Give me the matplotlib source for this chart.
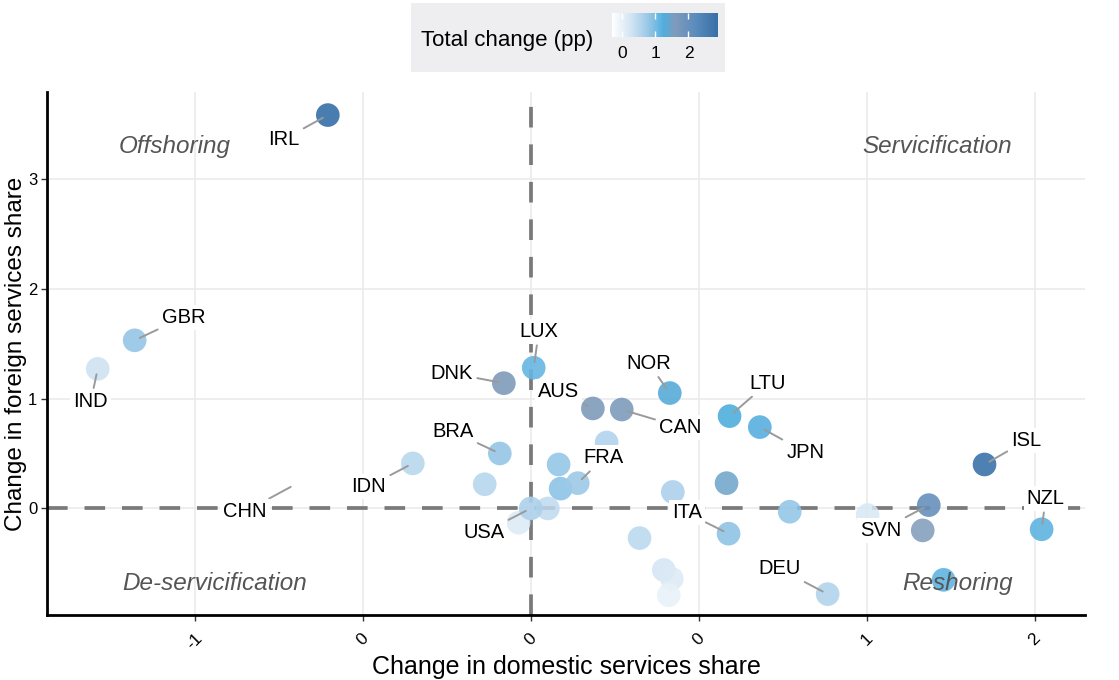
import matplotlib
matplotlib.use("Agg")
import matplotlib.pyplot as plt
import numpy as np
from matplotlib.colors import LinearSegmentedColormap, Normalize
from matplotlib.patches import Rectangle

plt.rcParams['font.family'] = ['Liberation Sans', 'DejaVu Sans']

# labelled countries
countries = ['IRL', 'GBR', 'IND', 'DNK', 'LUX', 'AUS', 'CAN', 'NOR', 'LTU', 'JPN',
             'BRA', 'IDN', 'CHN', 'USA', 'FRA', 'ITA', 'DEU', 'SVN', 'ISL', 'NZL']
dom_chg = [-0.604, -1.179, -1.289, -0.080, 0.009, 0.185, 0.271, 0.414, 0.592, 0.682,
           -0.092, -0.351, -0.70, 0.0, 0.140, 0.589, 0.884, 1.185, 1.351, 1.521]
for_chg = [3.58, 1.53, 1.27, 1.14, 1.28, 0.91, 0.90, 1.05, 0.84, 0.74,
           0.50, 0.41, 0.22, 0.0, 0.23, -0.23, -0.78, 0.03, 0.40, -0.19]
total_chg = [2.9, 0.8, 0.3, 1.62, 1.1, 1.6, 1.58, 1.3, 1.25, 1.2,
             0.8, 0.5, -0.3, 0.6, 0.75, 0.85, 0.55, 2.0, 2.8, 1.15]
# where the repelled labels sit
lab_x = [-0.735, -1.033, -1.310, -0.235, 0.024, 0.083, 0.446, 0.351, 0.705, 0.818,
         -0.232, -0.482, -0.851, -0.140, 0.217, 0.464, 0.741, 1.042, 1.476, 1.533]
lab_y = [3.36, 1.74, 0.97, 1.23, 1.61, 1.06, 0.74, 1.32, 1.14, 0.51,
         0.70, 0.20, -0.03, -0.22, 0.46, -0.04, -0.55, -0.20, 0.62, 0.09]

# unlabelled countries
other_dom = [-0.137, 0.226, 0.083, 0.089, 0.051, -0.036, 0.423, 0.324, 0.396, 0.420,
             0.411, 0.583, 0.771, 1.003, 1.167, 1.229]
other_for = [0.22, 0.60, 0.40, 0.18, 0.00, -0.13, 0.15, -0.27, -0.56, -0.64,
             -0.79, 0.23, -0.03, -0.06, -0.20, -0.65]
other_tot = [0.55, 0.6, 0.85, 0.9, 0.45, 0.15, 0.65, 0.5, 0.25, 0.15,
             0.0, 1.45, 0.85, 0.2, 1.6, 1.2]

quadrants = ['Offshoring', 'Servicification', 'De-servicification', 'Reshoring']
quad_x = [-1.06, 1.21, -0.94, 1.27]
quad_y = [3.29, 3.29, -0.68, -0.68]

xticks = [-1, -0.5, 0, 0.5, 1, 1.5]
xtick_labels = ['-1', '0', '0', '0', '1', '2']
yticks = [0, 1, 2, 3]

vmin, vmax = -0.3, 2.9
nodes = [(-0.3, '#ffffff'), (0.3, '#cfe3f2'), (0.8, '#97c6e6'), (1.25, '#4faede'),
         (1.6, '#7f9aba'), (2.2, '#5b8cbd'), (2.9, '#366fa6')]
cmap = LinearSegmentedColormap.from_list(
    'tot', [((v - vmin) / (vmax - vmin), c) for v, c in nodes])
norm = Normalize(vmin, vmax)

fig = plt.figure(figsize=(11.19, 6.8), dpi=100)
ax = fig.add_axes([0.042, 0.0956, 0.9276, 0.7691])

ax.set_xlim(-1.44, 1.65)
ax.set_ylim(-0.97, 3.79)
ax.grid(color='#ebebeb', lw=1.2, zorder=0)
ax.set_axisbelow(True)

ax.axvline(0, color='#7a7a7a', lw=2.7, ls=(0, (5.5, 4.5)), zorder=1)
ax.axhline(0, color='#7a7a7a', lw=2.7, ls=(0, (5.5, 4.5)), zorder=1)

ax.scatter(other_dom, other_for, c=other_tot, cmap=cmap, norm=norm, s=290,
           alpha=0.85, edgecolors='none', zorder=2)
sc = ax.scatter(dom_chg, for_chg, c=total_chg, cmap=cmap, norm=norm, s=290,
                alpha=0.9, edgecolors='none', zorder=2)

for name, px, py, lx, ly in zip(countries, dom_chg, for_chg, lab_x, lab_y):
    ax.annotate(name, xy=(px, py), xytext=(lx, ly), textcoords='data',
                ha='center', va='center', fontsize=14.5, color='black', zorder=4,
                bbox=dict(boxstyle='square,pad=0.15', fc='white', ec='none'),
                arrowprops=dict(arrowstyle='-', color='#9a9a9a', lw=1.4,
                                shrinkA=1, shrinkB=4))

for q, qx, qy in zip(quadrants, quad_x, quad_y):
    ax.text(qx, qy, q, ha='center', va='center', fontsize=17.5, style='italic',
            color='#555555', zorder=3)

for s in ['top', 'right']:
    ax.spines[s].set_visible(False)
for s in ['left', 'bottom']:
    ax.spines[s].set_linewidth(2)
    ax.spines[s].set_color('black')

ax.set_xticks(xticks)
ax.set_xticklabels(xtick_labels, rotation=45, fontsize=12.5)
ax.set_yticks(yticks)
ax.set_yticklabels([str(t) for t in yticks], fontsize=12)
ax.tick_params(axis='both', length=4, width=1, color='#333333', pad=3)
ax.tick_params(axis='x', pad=7)
ax.set_xlabel('Change in domestic services share', fontsize=18, labelpad=2)
ax.set_ylabel('Change in foreign services share', fontsize=17.5, va='center')
ax.yaxis.set_label_coords(-0.03, 0.5)

# legend box with colourbar
fig.patches.append(Rectangle((0.367, 0.894), 0.281, 0.102, transform=fig.transFigure,
                             facecolor='#eeedf0', edgecolor='none', zorder=-1))
fig.text(0.376, 0.940, 'Total change (pp)', fontsize=16, va='center', ha='left')
cax = fig.add_axes([0.547, 0.946, 0.095, 0.035])
cax.set_zorder(5)
cb = fig.colorbar(sc, cax=cax, orientation='horizontal', ticks=[0, 1, 2])
cb.solids.set_alpha(1)
cb.outline.set_visible(False)
cax.tick_params(axis='x', direction='in', color='white', length=4, width=1,
                labelsize=12.5, pad=7, top=True)

fig.savefig('out.png', dpi=100)
